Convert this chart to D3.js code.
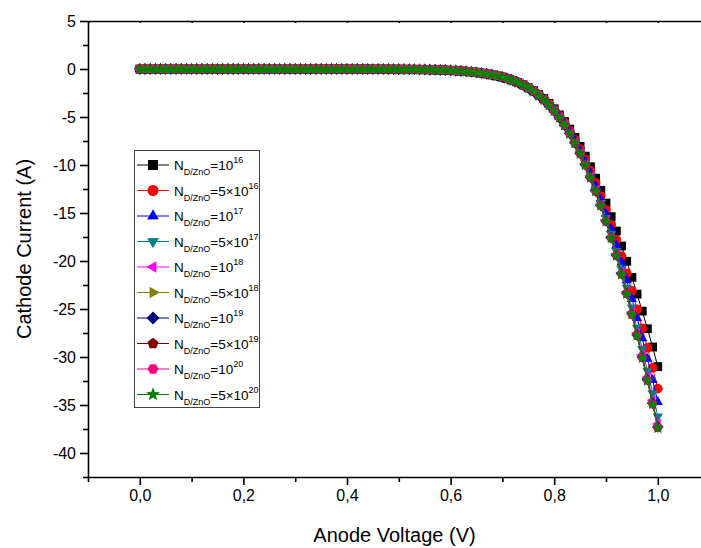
<!DOCTYPE html>
<html><head><meta charset="utf-8">
<script src="https://cdn.jsdelivr.net/npm/d3@7"></script>
<style>
body{margin:0;background:#fff}
svg{display:block;font-family:"Liberation Sans",Arial,Helvetica,sans-serif}
</style>
</head><body>
<svg id="chart" width="701" height="548"></svg>
<script>
// ---------------- DATA ----------------
const voltage = [0.00,0.01,0.02,0.03,0.04,0.05,0.06,0.07,0.08,0.09,0.10,0.11,0.12,0.13,0.14,0.15,0.16,0.17,0.18,0.19,
0.20,0.21,0.22,0.23,0.24,0.25,0.26,0.27,0.28,0.29,0.30,0.31,0.32,0.33,0.34,0.35,0.36,0.37,0.38,0.39,
0.40,0.41,0.42,0.43,0.44,0.45,0.46,0.47,0.48,0.49,0.50,0.51,0.52,0.53,0.54,0.55,0.56,0.57,0.58,0.59,
0.60,0.61,0.62,0.63,0.64,0.65,0.66,0.67,0.68,0.69,0.70,0.71,0.72,0.73,0.74,0.75,0.76,0.77,0.78,0.79,
0.80,0.81,0.82,0.83,0.84,0.85,0.86,0.87,0.88,0.89,0.90,0.91,0.92,0.93,0.94,0.95,0.96,0.97,0.98,0.99,1.00];

// common part of all curves, V = 0.00 .. 0.69 (A)
const lowCurrent = [0,0,0,0,0,0,0,0,0,0,0,0,0,0,0,0,0,0,0,0,0,0,0,0,0,0,0,0,0,
-0.001,-0.001,-0.001,-0.001,-0.001,-0.001,-0.002,-0.002,-0.002,-0.003,-0.003,
-0.004,-0.005,-0.006,-0.007,-0.008,-0.010,-0.012,-0.015,-0.017,-0.021,
-0.025,-0.030,-0.035,-0.042,-0.051,-0.060,-0.072,-0.086,-0.103,-0.123,
-0.147,-0.176,-0.210,-0.250,-0.299,-0.356,-0.425,-0.506,-0.603,-0.716];

// V = 0.70 .. 1.00 for each donor concentration (A)
const tail1e16 = [-0.84,-1.00,-1.18,-1.39,-1.64,-1.93,-2.26,-2.65,-3.08,-3.58,-4.14,-4.78,-5.48,-6.26,-7.12,-8.06,-9.08,-10.18,-11.37,-12.63,-13.97,-15.38,-16.88,-18.44,-20.03,-21.71,-23.45,-25.22,-27.06,-28.96,-31.00];
const tail5e16 = [-0.85,-1.00,-1.19,-1.40,-1.66,-1.95,-2.29,-2.68,-3.13,-3.65,-4.23,-4.89,-5.62,-6.44,-7.35,-8.35,-9.43,-10.61,-11.87,-13.23,-14.67,-16.20,-17.81,-19.51,-21.28,-23.11,-25.03,-27.01,-29.04,-31.14,-33.29];
const tail1e17 = [-0.85,-1.01,-1.19,-1.41,-1.66,-1.96,-2.31,-2.70,-3.16,-3.68,-4.28,-4.95,-5.71,-6.55,-7.48,-8.51,-9.63,-10.85,-12.17,-13.58,-15.09,-16.68,-18.37,-20.15,-22.00,-23.95,-25.95,-28.04,-30.19,-32.40,-34.68];
const tail5e17 = [-0.85,-1.01,-1.20,-1.42,-1.67,-1.97,-2.32,-2.72,-3.19,-3.72,-4.33,-5.02,-5.79,-6.66,-7.61,-8.68,-9.84,-11.11,-12.47,-13.95,-15.52,-17.20,-18.96,-20.83,-22.78,-24.83,-26.95,-29.16,-31.43,-33.76,-36.19];
const tail1e18 = [-0.85,-1.01,-1.20,-1.42,-1.68,-1.98,-2.33,-2.73,-3.20,-3.74,-4.36,-5.05,-5.83,-6.71,-7.68,-8.77,-9.94,-11.24,-12.63,-14.14,-15.75,-17.47,-19.28,-21.19,-23.20,-25.31,-27.49,-29.76,-32.10,-34.51,-36.98];
const tail5e18 = [-0.85,-1.01,-1.20,-1.42,-1.68,-1.98,-2.33,-2.74,-3.21,-3.75,-4.37,-5.06,-5.84,-6.73,-7.70,-8.79,-9.97,-11.28,-12.68,-14.20,-15.82,-17.55,-19.38,-21.30,-23.33,-25.48,-27.68,-29.96,-32.31,-34.75,-37.22];
const tail1e19 = [-0.85,-1.01,-1.20,-1.42,-1.68,-1.98,-2.33,-2.74,-3.21,-3.75,-4.37,-5.07,-5.85,-6.73,-7.71,-8.80,-9.98,-11.29,-12.70,-14.22,-15.84,-17.58,-19.41,-21.34,-23.37,-25.51,-27.72,-30.01,-32.37,-34.82,-37.30];
const tail5e19 = [-0.85,-1.01,-1.20,-1.42,-1.68,-1.98,-2.33,-2.74,-3.21,-3.75,-4.37,-5.07,-5.85,-6.74,-7.72,-8.80,-9.99,-11.30,-12.71,-14.23,-15.86,-17.60,-19.43,-21.36,-23.40,-25.54,-27.75,-30.04,-32.41,-34.86,-37.35];
const tail1e20 = [-0.85,-1.01,-1.20,-1.42,-1.68,-1.98,-2.33,-2.74,-3.21,-3.75,-4.37,-5.07,-5.85,-6.74,-7.72,-8.81,-10.00,-11.31,-12.72,-14.24,-15.87,-17.61,-19.44,-21.37,-23.41,-25.55,-27.77,-30.07,-32.43,-34.89,-37.38];
const tail5e20 = [-0.85,-1.01,-1.20,-1.42,-1.68,-1.98,-2.33,-2.74,-3.21,-3.75,-4.37,-5.07,-5.85,-6.74,-7.72,-8.81,-10.00,-11.31,-12.72,-14.24,-15.87,-17.61,-19.45,-21.38,-23.42,-25.56,-27.78,-30.08,-32.45,-34.91,-37.40];

const seriesTails = [tail1e16,tail5e16,tail1e17,tail5e17,tail1e18,tail5e18,tail1e19,tail5e19,tail1e20,tail5e20];
const seriesPrefix = ["","5×","","5×","","5×","","5×","","5×"];
const seriesExponent = ["16","16","17","17","18","18","19","19","20","20"];
const seriesColors = ["#000000","#FF0000","#0000FF","#008080","#FF00FF","#808000","#000080","#800000","#FF0080","#008000"];
const seriesShapes = ["square","circle","triUp","triDown","triLeft","triRight","diamond","pentagon","hexagon","star"];

const xMajorTicks = [0.0,0.2,0.4,0.6,0.8,1.0];
const xMinorTicks = [-0.1,0.1,0.3,0.5,0.7,0.9];
const yMajorTicks = [5,0,-5,-10,-15,-20,-25,-30,-35,-40];
const yMinorTicks = [2.5,-2.5,-7.5,-12.5,-17.5,-22.5,-27.5,-32.5,-37.5,-42.5];

// ---------------- CHART ----------------
const svg = d3.select("#chart");
const L = 88, R = 701, T = 21, B = 477;
const x = d3.scaleLinear().domain([-0.1, 1.0834]).range([L, R]);
const y = d3.scaleLinear().domain([-42.5, 5]).range([B, T]);
const fmt = d => d3.format(".1f")(d).replace(".", ",");

function polygon(n, r, rot) {
  const pts = [];
  for (let i = 0; i < n; i++) {
    const a = rot + i * 2 * Math.PI / n;
    pts.push([r * Math.cos(a), r * Math.sin(a)]);
  }
  return "M" + pts.map(p => p[0].toFixed(2) + "," + p[1].toFixed(2)).join("L") + "Z";
}
function star(ro, ri) {
  const pts = [];
  for (let i = 0; i < 10; i++) {
    const r = i % 2 ? ri : ro;
    const a = -Math.PI / 2 + i * Math.PI / 5;
    pts.push([r * Math.cos(a), r * Math.sin(a)]);
  }
  return "M" + pts.map(p => p[0].toFixed(2) + "," + p[1].toFixed(2)).join("L") + "Z";
}
function markerPath(shape, s) {
  switch (shape) {
    case "square": return `M${-s},${-s}H${s}V${s}H${-s}Z`;
    case "circle": return d3.symbol(d3.symbolCircle, Math.PI * (s * 1.1) ** 2)();
    case "triUp": return polygon(3, s * 1.35, -Math.PI / 2);
    case "triDown": return polygon(3, s * 1.35, Math.PI / 2);
    case "triLeft": return polygon(3, s * 1.35, Math.PI);
    case "triRight": return polygon(3, s * 1.35, 0);
    case "diamond": return polygon(4, s * 1.3, 0);
    case "pentagon": return polygon(5, s * 1.15, -Math.PI / 2);
    case "hexagon": return polygon(6, s * 1.1, 0);
    case "star": return star(s * 1.45, s * 0.6);
  }
}

// axes
const axisG = svg.append("g");
axisG.append("g").attr("transform", `translate(0,${B})`)
  .call(d3.axisBottom(x).tickValues(xMajorTicks).tickFormat(fmt).tickSize(8).tickPadding(5).tickSizeOuter(0));
axisG.append("g").attr("transform", `translate(0,${B})`)
  .call(d3.axisBottom(x).tickValues(xMinorTicks).tickFormat("").tickSize(5).tickSizeOuter(0))
  .select(".domain").remove();
axisG.append("g").attr("transform", `translate(${L},0)`)
  .call(d3.axisLeft(y).tickValues(yMajorTicks).tickFormat(d => String(d)).tickSize(8).tickPadding(4).tickSizeOuter(0));
axisG.append("g").attr("transform", `translate(${L},0)`)
  .call(d3.axisLeft(y).tickValues(yMinorTicks).tickFormat("").tickSize(5).tickSizeOuter(0))
  .select(".domain").remove();
// top axis
axisG.append("g").attr("transform", `translate(0,${T})`)
  .call(d3.axisTop(x).tickValues(xMajorTicks.concat(xMinorTicks)).tickFormat("").tickSize(-2).tickSizeOuter(0));

axisG.selectAll(".domain").attr("stroke", "#000").attr("stroke-width", 1.6);
axisG.selectAll(".tick line").attr("stroke", "#000").attr("stroke-width", 1.6);
axisG.selectAll(".tick text").attr("fill", "#000").style("font-size", "16px")
  .style("font-family", '"Liberation Sans",Arial,sans-serif');

// axis titles
svg.append("text").attr("x", (L + R) / 2).attr("y", 542).attr("text-anchor", "middle")
  .style("font-size", "20px").attr("fill", "#000").text("Anode Voltage (V)");
svg.append("text").attr("transform", `translate(31,${(T + B) / 2}) rotate(-90)`).attr("text-anchor", "middle")
  .style("font-size", "20px").attr("fill", "#000").text("Cathode Current (A)");

// series
const line = d3.line().x(d => x(d[0])).y(d => y(d[1]));
const plot = svg.append("g");
seriesTails.forEach((tail, i) => {
  const current = lowCurrent.concat(tail);
  const pts = voltage.map((v, k) => [v, current[k]]);
  const g = plot.append("g");
  g.append("path").attr("d", line(pts)).attr("fill", "none")
    .attr("stroke", seriesColors[i]).attr("stroke-width", 1);
  const mp = markerPath(seriesShapes[i], 4.4);
  g.selectAll("path.m").data(pts).enter().append("path").attr("class", "m")
    .attr("d", mp).attr("transform", d => `translate(${x(d[0])},${y(d[1])})`)
    .attr("fill", seriesColors[i]);
});

// legend
const lg = svg.append("g");
const lx = 134, ly = 150, lw = 125, lh = 257, rowH = 25.5;
lg.append("rect").attr("x", lx + 0.5).attr("y", ly + 0.5).attr("width", lw).attr("height", lh)
  .attr("fill", "#fff").attr("stroke", "#444").attr("stroke-width", 1);
seriesColors.forEach((c, i) => {
  const cy = ly + 15 + i * rowH;
  lg.append("line").attr("x1", lx + 3).attr("x2", lx + 35).attr("y1", cy).attr("y2", cy)
    .attr("stroke", c).attr("stroke-width", 1);
  lg.append("path").attr("d", markerPath(seriesShapes[i], 5))
    .attr("transform", `translate(${lx + 19},${cy})`).attr("fill", c);
  const t = lg.append("text").attr("x", lx + 40).attr("y", cy + 5).attr("fill", "#000")
    .style("font-size", "13.5px");
  t.append("tspan").text("N");
  t.append("tspan").attr("dy", 5).style("font-size", "9px").text("D/ZnO");
  t.append("tspan").attr("dy", -5).text("=" + seriesPrefix[i] + "10");
  t.append("tspan").attr("dy", -7).style("font-size", "9px").text(seriesExponent[i]);
});
</script>
</body></html>
